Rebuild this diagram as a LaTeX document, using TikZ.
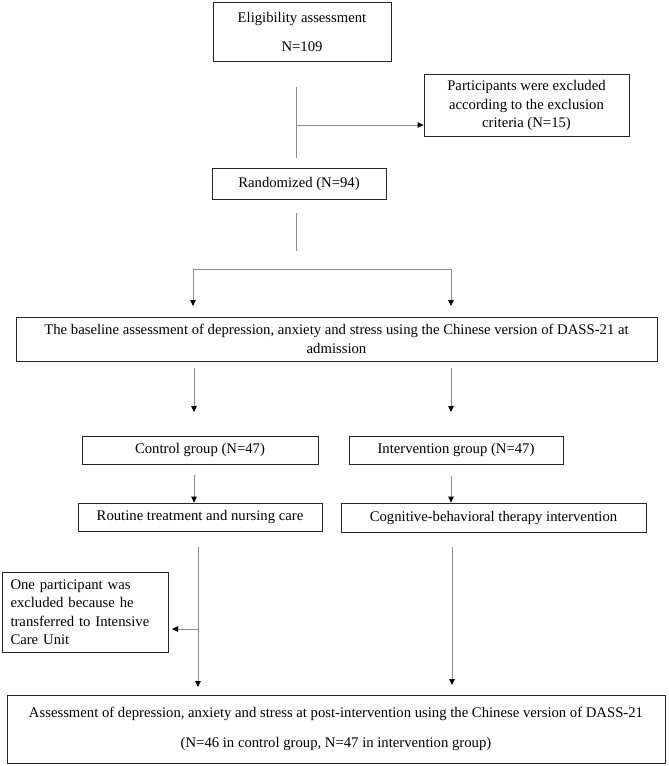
\documentclass[tikz,border=0pt]{standalone}
\usepackage{fontspec}
\setmainfont{Liberation Serif}
\usetikzlibrary{arrows.meta}
\newcommand\fsz{\fontsize{14.7}{18.5}\selectfont}
\begin{document}
\begin{tikzpicture}[x=1pt,y=-1pt,
  box/.style={draw=black!85, line width=0.8pt, inner sep=0pt, align=center, font=\fsz},
  conn/.style={draw=black!45, line width=0.8pt},
  tip/.tip={Triangle[width=5.5pt,length=6pt,black]},
  arr/.style={conn, -tip}]
\useasboundingbox (0,0) rectangle (669,766);

% boxes
\node[box, minimum width=178, minimum height=59] (elig) at (302,31.5) {Eligibility assessment\\[10.5pt]N=109};
\node[box, minimum width=205, minimum height=62] (excl) at (526.5,105.5) {Participants were excluded\\according to the exclusion\\criteria (N=15)};
\node[box, minimum width=174, minimum height=31] (rand) at (299,183.5) {Randomized (N=94)};
\node[box, minimum width=641, minimum height=44] (base) at (336.5,339) {The baseline assessment of depression, anxiety and stress using the Chinese version of DASS-21 at\\admission};
\node[box, minimum width=236, minimum height=28] (ctrl) at (200,450) {Control group (N=47)};
\node[box, minimum width=214, minimum height=28] (intv) at (456,450) {Intervention group (N=47)};
\node[box, minimum width=244, minimum height=28] (rout) at (200,517) {Routine treatment and nursing care};
\node[box, minimum width=305, minimum height=29] (cogn) at (493.5,517.5) {Cognitive-behavioral therapy intervention};
\node[box, minimum width=165, minimum height=80, text width=150, inner xsep=8, align=left] (icu) at (85.5,612) {One participant was\\excluded because he\\transferred to Intensive\\Care Unit};
\node[box, minimum width=658, minimum height=68] (final) at (336,729) {Assessment of depression, anxiety and stress at post-intervention using the Chinese version of DASS-21\\[11pt](N=46 in control group, N=47 in intervention group)};

% connectors
\coordinate (t1) at (296,87);
\coordinate (t2) at (296,158);
\coordinate (tj) at (296,125);
\draw[conn] (t1) -- (t2);
\draw[arr] (tj) -- (tj -| excl.west);

\coordinate (r1) at (296,213);
\coordinate (r2) at (296,251);
\draw[conn] (r1) -- (r2);

\coordinate (sL) at (193,306);
\coordinate (sR) at (451,306);
\coordinate (sy) at (0,269);
\draw[conn, tip-tip] (sL) -- (sL |- sy) -- (sR |- sy) -- (sR);

\coordinate (g1a) at (194,368);
\coordinate (g1b) at (194,412);
\coordinate (g2a) at (451,368);
\coordinate (g2b) at (451,412);
\draw[arr] (g1a) -- (g1b);
\draw[arr] (g2a) -- (g2b);

\coordinate (h1) at (194,475);
\coordinate (h2) at (451,476);
\draw[arr] (h1) -- (h1 |- rout.north);
\draw[arr] (h2) -- (h2 |- cogn.north);

\coordinate (v1) at (198,547);
\coordinate (v2) at (198,687);
\coordinate (vb) at (198,629);
\coordinate (vbe) at (172,629);
\draw[arr] (v1) -- (v2);
\draw[arr] (vb) -- (vbe);

\coordinate (w1) at (452,547);
\coordinate (w2) at (452,685);
\draw[arr] (w1) -- (w2);
\end{tikzpicture}
\end{document}
